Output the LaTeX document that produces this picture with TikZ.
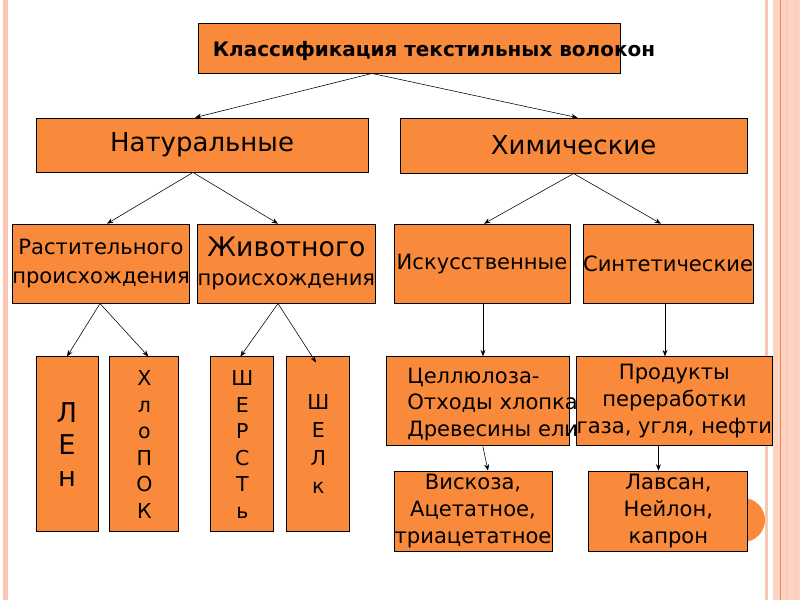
\documentclass[tikz,border=0pt]{standalone}
\usepackage{fontspec}
\setmainfont{DejaVu Sans}
\usetikzlibrary{arrows.meta,calc}
\definecolor{slideOrange}{HTML}{F98A3C}
\definecolor{stripPink}{HTML}{F9C6B3}
\definecolor{stripLight}{HTML}{FCD3C3}
\definecolor{stripLine}{HTML}{EE8A4E}

\begin{document}
\begin{tikzpicture}[
          boxMain/.style={rectangle, draw=black, fill=slideOrange, line width=0.6pt, inner sep=0pt},
          boxTall/.style={boxMain, minimum width=1.575cm, minimum height=4.375cm, align=center},
          link/.style={->, >={Stealth[length=4.5pt, width=3.5pt]}, line width=0.4pt, draw=black},
          titleText/.style={font=\fontsize{14.2pt}{16pt}\selectfont\bfseries},
          bigText/.style={font=\fontsize{18.5pt}{22pt}\selectfont},
          midText/.style={font=\fontsize{15pt}{19pt}\selectfont, align=center},
          letterText/.style={font=\fontsize{14.6pt}{18.9pt}\selectfont}
        ]
          \useasboundingbox[fill=white] (0,0) rectangle (20,-15);
          % slide border strips
          \fill[stripPink] (0.083,0) rectangle (0.208,-15);
          \fill[stripPink] (19.125,0) rectangle (19.19,-15);
          \fill[stripLight] (19.32,0) rectangle (20,-15);
          \draw[stripLine, line width=0.7pt] (19.52,0) -- (19.52,-15);
          \draw[stripPink, line width=0.5pt] (19.67,0) -- (19.67,-15);
          \draw[stripPink, line width=0.5pt] (19.875,0) -- (19.875,-15);
          \fill[slideOrange] (18.575,-13.0) circle (0.55);

          % top levels
          \node[boxMain, minimum width=10.55cm, minimum height=1.25cm,
                label={[titleText, xshift=0.625cm, yshift=-0.08cm]center:Классификация текстильных волокон}] (title) at (10.225,-1.2) {};
          \node[boxMain, minimum width=8.3cm, minimum height=1.35cm] (nat) at (5.05,-3.625) {\raisebox{0.15cm}{\fontsize{18.5pt}{22pt}\selectfont Натуральные}};
          \node[boxMain, bigText, minimum width=8.675cm, minimum height=1.375cm] (chem) at (14.34,-3.64) {Химические};

          \node[boxMain, midText, font=\fontsize{15pt}{21pt}\selectfont, minimum width=4.25cm, minimum height=1.975cm] (rast) at (2.525,-6.59) {Растительного\\происхождения};
          \node[boxMain, midText, font=\fontsize{15pt}{21pt}\selectfont, minimum width=4.425cm, minimum height=1.975cm] (zhiv) at (7.16,-6.59) {{\fontsize{19pt}{22pt}\selectfont Животного}\\происхождения};
          \node[boxMain, midText, minimum width=4.4cm, minimum height=1.975cm] (isk) at (12.05,-6.59) {Искусственные};
          \node[boxMain, midText, minimum width=4.25cm, minimum height=1.975cm] (sint) at (16.7,-6.59) {Синтетические};

          % natural fibres
          \node[boxTall, font=\fontsize{19.4pt}{22.7pt}\selectfont, minimum width=1.55cm] (len) at (1.675,-11.11) {Л\\Е\\н};
          \node[boxTall, letterText, minimum width=1.725cm] (hlop) at (3.61,-11.11) {Х\\л\\о\\П\\О\\К};
          \node[boxTall, letterText] (sherst) at (6.06,-11.11) {Ш\\Е\\Р\\С\\Т\\ь};
          \node[boxTall, font=\fontsize{14.6pt}{19.9pt}\selectfont] (shelk) at (7.96,-11.11) {Ш\\Е\\Л\\к};

          % chemical fibres
          \node[boxMain, midText, minimum width=4.875cm, minimum height=2.225cm] (prod) at (16.86,-10.03) {Продукты\\переработки\\газа, угля, нефти};
          \node[boxMain, minimum width=4.575cm, minimum height=2.225cm,
                label={[midText, align=left, xshift=0.36cm, yshift=-0.08cm]center:Целлюлоза-\\Отходы хлопка\\Древесины ели}] (cell) at (11.96,-10.03) {};
          \node[boxMain, midText, minimum width=3.95cm, minimum height=2cm] (visk) at (11.825,-12.775) {Вискоза,\\Ацетатное,\\триацетатное};
          \node[boxMain, midText, minimum width=3.975cm, minimum height=2cm] (lavs) at (16.71,-12.775) {Лавсан,\\Нейлон,\\капрон};

          % connectors
          \draw[link] ([xshift=-0.925cm]title.south) -- ([xshift=-0.175cm]nat.north);
          \draw[link] ([xshift=-0.925cm]title.south) -- ([xshift=0.1cm]chem.north);
          \draw[link] ([xshift=-0.225cm]nat.south) -- ([xshift=0.15cm]rast.north);
          \draw[link] ([xshift=-0.225cm]nat.south) -- ([xshift=-0.21cm]zhiv.north);
          \draw[link] (chem.south) -- ([xshift=0.05cm]isk.north);
          \draw[link] (chem.south) -- ([xshift=-0.175cm]sint.north);
          \draw[link] ([xshift=-0.025cm]rast.south) -- (len.north);
          \draw[link] ([xshift=-0.025cm]rast.south) -- ([xshift=0.1cm]hlop.north);
          \draw[link] ([xshift=-0.21cm]zhiv.south) -- ([xshift=-0.05cm]sherst.north);
          \draw[link] ([xshift=-0.21cm]zhiv.south) -- ([xshift=-0.06cm, yshift=-0.15cm]shelk.north);
          \draw[link] ([xshift=0.025cm]isk.south) -- ([xshift=0.025cm]isk.south |- cell.north);
          \draw[link] ([xshift=-0.075cm]sint.south) -- ([xshift=-0.075cm]sint.south |- prod.north);
          \draw[link] ([xshift=0.11cm]cell.south) -- ([xshift=0.375cm]visk.north);
          \draw[link] ([xshift=-0.4cm]prod.south) -- ([xshift=-0.4cm]prod.south |- lavs.north);
        \end{tikzpicture}
\end{document}
